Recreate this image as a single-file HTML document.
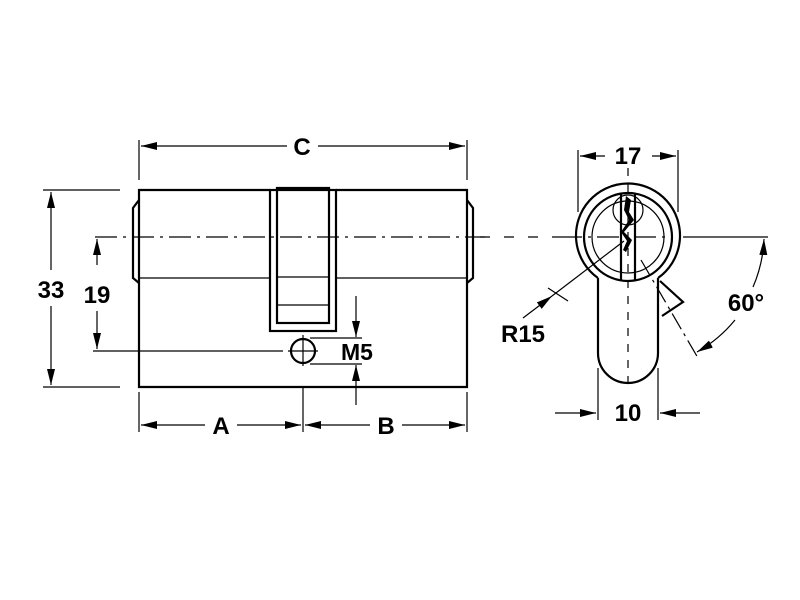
<!DOCTYPE html>
<html><head><style>html,body{margin:0;padding:0;background:#fff}svg{display:block}</style></head>
<body>
<svg width="800" height="600" viewBox="0 0 800 600" xmlns="http://www.w3.org/2000/svg">
<defs>
<marker id="ar" viewBox="0 0 16 8" refX="16" refY="4" markerWidth="16" markerHeight="8" orient="auto-start-reverse" markerUnits="userSpaceOnUse">
<path d="M0,0 L16,4 L0,8 Z" fill="#000"/></marker>
</defs>
<g fill="none" stroke="#000" stroke-width="1.2">
<line x1="95" y1="237" x2="485" y2="237" stroke-dasharray="22,6,3,6"/>
<line x1="139" y1="140" x2="139" y2="180"/>
<line x1="467" y1="140" x2="467" y2="180"/>
<line x1="287" y1="146" x2="141" y2="146" marker-end="url(#ar)"/>
<line x1="318" y1="146" x2="465" y2="146" marker-end="url(#ar)"/>
<line x1="43" y1="190" x2="120" y2="190"/>
<line x1="43" y1="387" x2="120" y2="387"/>
<line x1="51" y1="270" x2="51" y2="192" marker-end="url(#ar)"/>
<line x1="51" y1="306" x2="51" y2="385" marker-end="url(#ar)"/>
<line x1="97" y1="265" x2="97" y2="239" marker-end="url(#ar)"/>
<line x1="97" y1="311" x2="97" y2="349" marker-end="url(#ar)"/>
<line x1="93" y1="351" x2="283" y2="351"/>
<line x1="139" y1="392" x2="139" y2="432"/>
<line x1="467" y1="392" x2="467" y2="432"/>
<line x1="303" y1="387" x2="303" y2="432"/>
<line x1="205" y1="425" x2="141" y2="425" marker-end="url(#ar)"/>
<line x1="237" y1="425" x2="301" y2="425" marker-end="url(#ar)"/>
<line x1="370" y1="425" x2="305" y2="425" marker-end="url(#ar)"/>
<line x1="402" y1="425" x2="465" y2="425" marker-end="url(#ar)"/>
<line x1="356" y1="296" x2="356" y2="337" marker-end="url(#ar)"/>
<line x1="356" y1="405" x2="356" y2="365" marker-end="url(#ar)"/>
<line x1="310" y1="338" x2="362" y2="338"/>
<line x1="310" y1="364" x2="362" y2="364"/>
</g>
<g fill="none" stroke="#000" stroke-width="2.2">
<path d="M270,190 L139,190 L139,387 L467,387 L467,190 L336,190"/>
<path d="M139,278 L270,278 M336,278 L467,278" stroke-width="1.2"/>
<path d="M139,200 L133,208 L133,278 L139,283"/>
<path d="M467,200 L473,208 L473,278 L467,283"/>
<rect x="270" y="190" width="66" height="141"/>
<rect x="277" y="188" width="52" height="135"/>
<path d="M277,277 L329,277 M277,305 L329,305" stroke-width="1.2"/>
<circle cx="303" cy="351" r="12"/>
</g>
<path d="M303,335 V366 M288,351 H318" stroke="#000" stroke-width="1.2"/>
<g fill="none" stroke="#000" stroke-width="1.2">
<line x1="578" y1="150" x2="578" y2="212"/>
<line x1="678" y1="150" x2="678" y2="212"/>
<line x1="605" y1="156" x2="580" y2="156" marker-end="url(#ar)"/>
<line x1="652" y1="156" x2="676" y2="156" marker-end="url(#ar)"/>
<line x1="628" y1="168" x2="628" y2="390" stroke-dasharray="8,8"/>
<line x1="480" y1="237" x2="560" y2="237" stroke-dasharray="10,14"/>
<line x1="560" y1="237" x2="672" y2="237" stroke-dasharray="22,6,3,6"/>
<line x1="683" y1="237" x2="768" y2="237"/>
<line x1="598" y1="368" x2="598" y2="420"/>
<line x1="658" y1="368" x2="658" y2="420"/>
<line x1="555" y1="413" x2="596" y2="413" marker-end="url(#ar)"/>
<line x1="700" y1="413" x2="660" y2="413" marker-end="url(#ar)"/>
<path d="M753,287 A135,135 0 0 0 764,239" marker-end="url(#ar)"/>
<path d="M735,320 A135,135 0 0 1 697,352" marker-end="url(#ar)"/>
<line x1="641" y1="260" x2="698" y2="358" stroke-dasharray="18,5,3,5"/>
<line x1="523" y1="318" x2="552" y2="296" marker-end="url(#ar)"/>
<line x1="552" y1="296" x2="624" y2="241"/>
<line x1="548" y1="288" x2="568" y2="301"/>
<circle cx="628" cy="237" r="36"/>
<circle cx="628" cy="210" r="15"/>
</g>
<g fill="none" stroke="#000" stroke-width="2.2">
<path d="M598,278 A52,52 0 1 1 658,278"/>
<circle cx="628" cy="237" r="44"/>
<path d="M598,278 L598,353 A30,30 0 0 0 658,353 L658,278"/>
<path d="M660,281 L683,302 L662,316"/>
<line x1="621" y1="194" x2="621" y2="281"/>
<line x1="635" y1="194" x2="635" y2="281"/>
</g>
<path d="M626,196 L631,200 L629,212 L634,220 L624,232 L632,240 L626,252 L623,250 L627,241 L621,232 L629,220 L624,210 Z" fill="#000"/>
<g font-family="Liberation Sans, sans-serif" font-weight="bold" font-size="24" fill="#000" text-anchor="middle">
<text x="302" y="155">C</text>
<text x="51" y="298">33</text>
<text x="97" y="303">19</text>
<text x="221" y="434">A</text>
<text x="386" y="434">B</text>
<text x="357" y="360" font-size="23">M5</text>
<text x="628" y="164">17</text>
<text x="628" y="421">10</text>
<text x="523" y="342">R15</text>
<text x="746" y="311">60°</text>
</g>
</svg>
</body></html>
